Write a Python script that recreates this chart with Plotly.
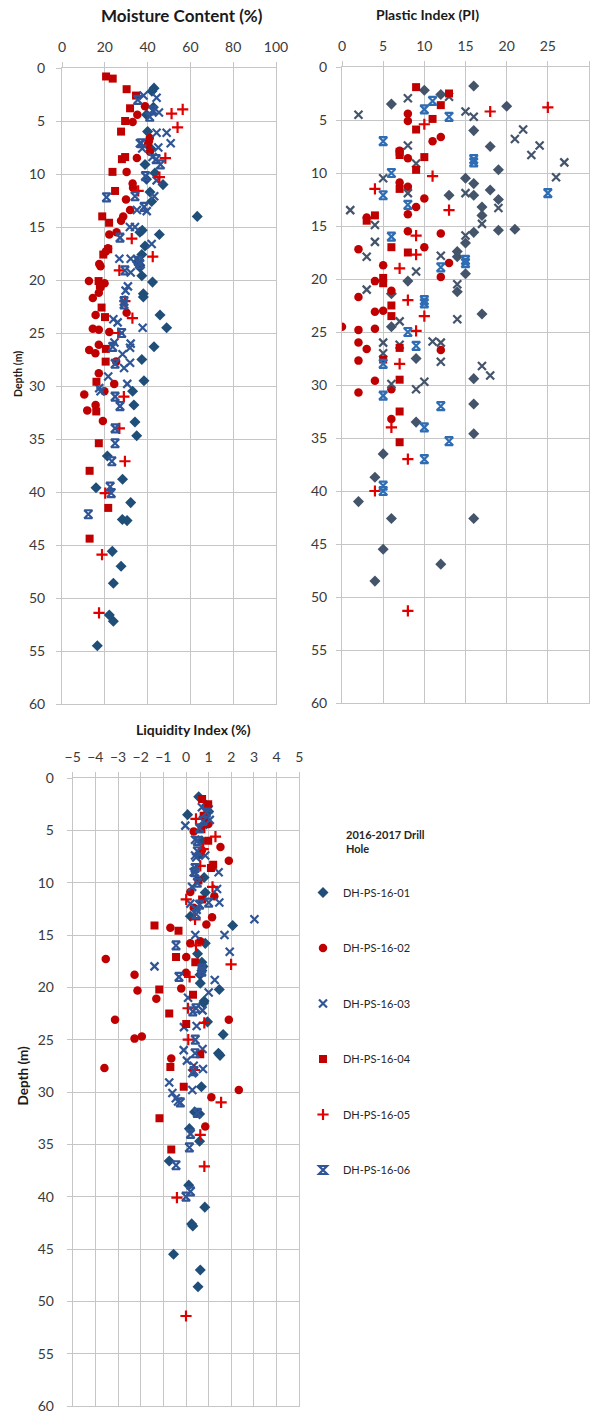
import plotly.graph_objects as go

# ---------------- DATA ----------------
series_names = ["DH-PS-16-01", "DH-PS-16-02", "DH-PS-16-03", "DH-PS-16-04", "DH-PS-16-05", "DH-PS-16-06"]
legend_title = "2016-2017 Drill<br>Hole"

# Moisture Content (%) : values and depths (m)
mc01_val = [43, 42, 42.7, 39.5, 40, 41.5, 38.8, 43.4, 39.5, 47.2, 41.1, 41.9, 63.2, 37.5, 36.4, 45.5, 38.8, 37.3, 35.2, 36.4, 36.4, 37.3, 42.3, 38, 38, 45.8, 48.9, 43, 37.3, 38.3, 33, 33.6, 34.1, 34.9, 21.2, 28.3, 15.9, 32.1, 28.2, 30.4, 23.5, 27.6, 24, 22.1, 24, 16.5]
mc01_dep = [1.9, 2.2, 3.7, 4.4, 6.0, 7.6, 9.1, 9.9, 10.5, 11.0, 11.7, 12.6, 14.0, 15.3, 15.5, 15.7, 16.8, 17.6, 18.3, 18.6, 18.8, 19.6, 20.2, 21.3, 21.6, 23.3, 24.5, 26.3, 27.5, 29.5, 30.5, 31.8, 33.4, 34.7, 36.6, 38.8, 39.6, 41.0, 42.6, 42.7, 45.6, 47.0, 48.6, 51.6, 52.2, 54.5]

mc02_val = [38.8, 35.2, 33, 41, 40.6, 40.2, 41.1, 35, 30.2, 33, 33.2, 29.9, 31.8, 28.6, 27.6, 25.5, 22.1, 21.5, 20.5, 17.4, 18, 12.6, 19.9, 18, 17.2, 14.4, 15.7, 30.2, 14.4, 17.2, 22.1, 17.2, 12.7, 15.6, 25.3, 17.2, 24.4, 19.8, 10.4, 15.7, 11.8, 19.1]
mc02_dep = [3.6, 4.4, 5.1, 6.6, 6.9, 7.2, 7.9, 8.5, 9.8, 10.9, 11.3, 12.4, 13.4, 14.0, 14.4, 15.5, 15.7, 17.0, 17.3, 18.5, 18.7, 20.1, 20.3, 20.7, 21.2, 21.7, 23.3, 23.1, 24.6, 24.7, 24.9, 26.1, 26.6, 26.9, 27.7, 28.8, 29.8, 30.5, 30.8, 31.8, 32.3, 33.3]

mc03_val = [44.2, 38.1, 45.3, 48.9, 44.2, 50.8, 36.4, 45, 37.5, 42.3, 44.2, 43.1, 35, 39.6, 31.7, 34.1, 41.9, 26.8, 32.1, 32.1, 30.8, 29.7, 24, 26, 37.7, 24.5, 32.1, 31.8, 28.3, 31.8, 29, 21.6, 30.5, 17.4, 18]
mc03_dep = [2.8, 2.6, 4.2, 6.1, 6.1, 7.1, 7.1, 7.5, 7.6, 8.4, 10.6, 12.1, 13.4, 13.5, 15.0, 15.0, 16.6, 18.0, 18.0, 19.3, 20.6, 21.0, 23.7, 24.0, 24.5, 25.9, 26.0, 26.4, 27.0, 27.8, 28.3, 29.1, 29.8, 30.2, 30.5]

mc04_val = [20.6, 23.7, 30.2, 34.6, 31.8, 29.5, 27.6, 29.5, 28, 23.6, 24.8, 18.8, 22, 21.6, 19.3, 17.1, 17.7, 18.5, 20.1, 20.5, 20.4, 16.1, 16, 17.2, 12.9, 21.6, 12.9]
mc04_dep = [0.8, 1.0, 2.0, 2.6, 3.8, 5.0, 6.0, 8.4, 8.6, 9.8, 11.6, 14.0, 14.6, 17.1, 17.6, 20.1, 20.5, 22.6, 23.5, 26.5, 27.7, 29.6, 32.4, 35.4, 38.0, 41.5, 44.4]

mc05_val = [56.4, 51.2, 54, 48.3, 45.5, 35.6, 32.6, 42.4, 26.8, 29.4, 32.9, 26.3, 28.9, 26.8, 29.4, 20.2, 18.7, 17.3]
mc05_dep = [3.9, 4.3, 5.6, 8.5, 10.3, 11.6, 16.1, 17.8, 19.1, 22.0, 23.6, 25.0, 31.0, 34.0, 37.1, 40.1, 45.9, 51.4]

mc06_val = [35.4, 42.5, 41, 37, 44, 46, 39, 20.8, 34.1, 38.4, 27.1, 35.6, 36.4, 29.4, 29, 29, 27.9, 23.7, 24.8, 24.8, 27.1, 24.8, 24.8, 23.3, 22.5, 23, 12.3]
mc06_dep = [3.0, 4.0, 4.6, 7.1, 8.6, 9.1, 10.2, 12.2, 12.1, 13.1, 16.0, 18.2, 18.5, 19.1, 22.0, 22.3, 25.0, 26.3, 27.9, 31.0, 31.9, 34.0, 35.4, 37.1, 39.5, 40.1, 42.1]

# Plastic Index (PI)
pi01_val = [16, 10, 12, 6, 20, 16, 18, 19, 15, 16, 18, 13, 16, 19, 17, 17, 16, 19, 21, 15, 14, 14, 15, 8, 14, 6, 17, 6, 9, 16, 16, 9, 16, 5, 4, 2, 6, 16, 5, 12, 4]
pi01_dep = [1.8, 2.2, 2.6, 3.5, 3.7, 6.0, 7.5, 9.7, 10.5, 11.0, 11.6, 12.1, 12.1, 12.5, 13.2, 14.0, 15.6, 15.4, 15.3, 16.6, 17.4, 17.9, 19.5, 20.2, 21.2, 21.4, 23.3, 24.5, 27.5, 29.4, 31.8, 33.5, 34.6, 36.5, 38.7, 41.0, 42.6, 42.6, 45.5, 46.9, 48.5]

pi02_val = [8, 8, 12, 11, 7, 8, 7, 8, 10, 9, 8, 3, 8, 12, 2, 10, 13, 5, 12, 4, 6, 2, 4, 5, 0, 2, 4, 2, 3, 12, 2, 4, 6, 2, 6]
pi02_dep = [4.4, 5.1, 6.6, 7.0, 7.9, 8.6, 10.9, 11.3, 12.4, 13.2, 13.9, 14.2, 15.5, 15.7, 17.2, 17.0, 18.5, 18.7, 19.8, 20.2, 21.1, 21.7, 23.1, 23.0, 24.5, 24.8, 24.7, 26.0, 26.6, 26.7, 27.7, 29.6, 30.4, 30.7, 33.2]

pi03_val = [2, 8, 13, 15, 16, 22, 21, 24, 23, 27, 26, 9, 8, 5, 8, 15, 19, 1, 4, 17, 15, 4, 3, 12, 9, 14, 3, 7, 14, 5, 11, 12, 5, 7, 12, 17, 18, 6, 10, 9]
pi03_dep = [4.5, 2.95, 2.8, 4.2, 4.7, 5.9, 6.8, 7.4, 8.3, 9.0, 10.4, 9.1, 7.4, 10.5, 11.9, 11.9, 13.3, 13.5, 14.9, 14.8, 15.9, 16.5, 17.9, 17.8, 19.3, 20.5, 21.0, 24.0, 23.8, 26.0, 25.9, 26.0, 27.0, 26.2, 27.8, 28.2, 29.1, 29.9, 29.7, 30.4]

pi04_val = [9, 13, 12, 11, 9, 7, 7, 10, 9, 7, 4, 3, 6, 8, 5, 5, 6, 6, 7, 5, 7, 7, 7]
pi04_dep = [1.9, 2.5, 3.6, 4.9, 5.9, 8.0, 8.3, 8.5, 9.7, 11.5, 14.0, 14.5, 17.0, 17.5, 19.9, 20.4, 22.5, 23.5, 26.5, 27.6, 29.5, 32.5, 35.4]

pi05_val = [25, 18, 10, 11, 4, 13, 9, 9, 7, 8, 10, 9, 7, 6, 8, 4, 8]
pi05_dep = [3.8, 4.2, 5.4, 10.3, 11.5, 13.5, 15.9, 17.7, 19.0, 22.0, 23.5, 24.9, 28.0, 34.0, 37.0, 40.0, 51.3]

pi06_val = [11, 10, 13, 5, 16, 16, 6, 5, 25, 8, 6, 15, 15, 12, 10, 10, 8, 9, 5, 5, 12, 10, 13, 10, 5, 5]
pi06_dep = [3.2, 4.0, 4.7, 7.0, 8.7, 9.0, 10.0, 12.1, 11.9, 13.0, 16.0, 18.2, 18.5, 18.9, 22.0, 22.3, 25.0, 26.3, 28.0, 31.0, 32.0, 34.0, 35.3, 37.0, 39.5, 40.0]

# Liquidity Index (%)
li01_val = [0.56, 0.9, 0.07, 1.0, 0.9, 0.7, 0.6, 0.8, 0.85, 0.19, 2.06, 0.85, 0.51, 0.7, 0.75, 0.7, 0.62, 0.63, 1.47, 0.8, 0.78, 0.95, 1.64, 1.43, 1.5, 0.68, 0.38, 0.6, 0.15, 0.6, -0.74, 0.12, 0.83, 0.25, 0.3, -0.55, 0.63, 0.53]
li01_dep = [1.8, 2.6, 3.5, 3.2, 4.4, 6.0, 7.3, 9.5, 10.95, 13.2, 14.1, 15.8, 16.8, 17.6, 18.0, 18.4, 18.8, 19.6, 20.2, 21.3, 21.5, 23.3, 24.5, 26.3, 26.5, 29.5, 31.9, 32.1, 33.5, 34.7, 36.6, 38.9, 41.0, 42.6, 42.8, 45.5, 47.0, 48.6]

li02_val = [0.85, 0.99, 0.34, 1.52, 0.7, 1.89, 0.19, 1.25, 0.34, 1.15, 0.9, -0.69, 0.63, 0.19, -3.54, 0.01, -2.27, 0.0, -2.14, -0.21, -1.31, -3.13, 1.89, -2.27, -1.95, -0.65, -3.6, 2.33, 1.12, 0.85]
li02_dep = [3.7, 4.4, 5.1, 6.6, 6.9, 7.9, 10.9, 11.3, 12.4, 13.3, 14.0, 14.3, 15.6, 15.8, 17.3, 17.1, 18.8, 18.6, 20.3, 20.1, 21.1, 23.1, 23.1, 24.9, 24.7, 26.8, 27.7, 29.8, 30.5, 33.3]

li03_val = [0.7, 1.0, 1.05, -0.03, 0.4, 0.4, 0.45, 0.85, 0.34, 1.44, 0.27, 1.37, 0.19, 1.47, 0.47, 3.02, 1.7, 0.41, 1.93, -1.39, 1.27, 1.0, 0.09, 0.73, -0.09, 0.47, -0.1, 0.73, 0.04, 0.34, 0.75, 0.28, -0.74, 0.28, -0.6, -0.45, -0.35]
li03_dep = [2.8, 3.0, 4.0, 4.55, 5.9, 7.4, 7.6, 7.4, 9.0, 9.0, 10.4, 10.6, 12.0, 11.9, 12.6, 13.5, 15.0, 15.0, 16.6, 18.0, 19.3, 20.5, 21.0, 22.2, 23.8, 23.7, 26.0, 25.9, 27.0, 27.5, 27.8, 28.2, 29.1, 29.8, 30.1, 30.6, 30.9]

li04_val = [0.71, 0.98, 0.78, 0.68, 0.98, 1.2, 1.1, 0.55, 0.71, -1.39, -0.33, -0.44, 0.41, -1.18, 0.31, -0.74, 0.01, 0.63, -0.69, -0.1, -1.17, -0.65]
li04_dep = [2.0, 2.5, 3.6, 4.9, 6.0, 8.3, 8.6, 9.8, 11.6, 14.1, 14.6, 17.1, 17.6, 20.2, 20.7, 22.5, 23.5, 26.4, 27.6, 29.5, 32.5, 35.5]

li05_val = [0.44, 1.3, 0.76, 0.63, 1.17, 0.01, 0.4, 0.44, 1.99, 0.16, 0.09, 0.81, 0.1, 0.37, 1.55, 0.63, 0.81, -0.4, 0.0]
li05_dep = [3.9, 5.6, 6.8, 8.4, 10.4, 11.6, 13.5, 16.0, 17.8, 19.0, 22.0, 23.4, 25.0, 27.9, 31.0, 34.1, 37.1, 40.1, 51.4]

li06_val = [0.9, 0.75, 0.6, 0.5, 0.5, 0.4, 0.4, 0.5, 0.6, 1.0, 0.45, -0.44, 0.7, 0.7, -0.31, 0.44, 0.3, 0.41, 0.4, 0.35, -0.25, 0.5, 0.2, 0.15, -0.44, 0.2, 0.0]
li06_dep = [3.3, 4.1, 4.8, 6.0, 7.0, 8.6, 9.0, 10.0, 12.1, 11.9, 13.0, 16.0, 18.2, 18.5, 19.0, 22.0, 22.3, 25.0, 26.3, 28.0, 31.0, 32.0, 34.0, 35.3, 37.0, 39.5, 40.0]

mc_ticks = [0, 20, 40, 60, 80, 100]
pi_ticks = [0, 5, 10, 15, 20, 25, 30]
li_ticks = [-5, -4, -3, -2, -1, 0, 1, 2, 3, 4, 5]
depth_ticks = [0, 5, 10, 15, 20, 25, 30, 35, 40, 45, 50, 55, 60]

# ---------------- STYLE ----------------
W, H = 597, 1414
FONT = "Lato"
NAVY = "#1F4E79"
BLUE = "#2F5597"
SLATE = "#44546A"
HG = "#2E6DB4"
RED = "#C00000"
PLUS = "#E00000"
GRID = "#C6C6C6"
TICKC = "#3a3a3a"


def marker_style(idx, panel):
    if idx == 0:
        c = SLATE if panel == 2 else NAVY
        return dict(symbol="diamond", size=8.5, color=c)
    if idx == 1:
        return dict(symbol="circle", size=8.5, color=RED)
    if idx == 2:
        c = SLATE if panel == 2 else BLUE
        return dict(symbol="x-thin", size=8, color=c, line=dict(width=2.2, color=c))
    if idx == 3:
        return dict(symbol="square", size=8, color=RED)
    if idx == 4:
        return dict(symbol="cross-thin", size=8, color=PLUS, line=dict(width=2.2, color=PLUS))
    c = HG if panel == 2 else BLUE
    return dict(symbol="hourglass-open", size=8, color=c, line=dict(width=2.2, color=c))


fig = go.Figure()

panels = [
    (1, [(mc01_val, mc01_dep), (mc02_val, mc02_dep), (mc03_val, mc03_dep), (mc04_val, mc04_dep), (mc05_val, mc05_dep), (mc06_val, mc06_dep)]),
    (2, [(pi01_val, pi01_dep), (pi02_val, pi02_dep), (pi03_val, pi03_dep), (pi04_val, pi04_dep), (pi05_val, pi05_dep), (pi06_val, pi06_dep)]),
    (3, [(li01_val, li01_dep), (li02_val, li02_dep), (li03_val, li03_dep), (li04_val, li04_dep), (li05_val, li05_dep), (li06_val, li06_dep)]),
]

for panel, data in panels:
    xa = "x" if panel == 1 else f"x{panel}"
    ya = "y" if panel == 1 else f"y{panel}"
    for i, (vals, deps) in enumerate(data):
        fig.add_trace(go.Scatter(
            x=vals, y=deps, mode="markers", name=series_names[i],
            marker=marker_style(i, panel), xaxis=xa, yaxis=ya,
            legendgroup=series_names[i], showlegend=(panel == 3),
        ))


def px_dom_x(a, b):
    return [a / W, b / W]


def px_dom_y(top, bottom):
    return [1 - bottom / H, 1 - top / H]


def xax(dom, rng, ticks, fs=14):
    return dict(domain=dom, range=rng, tickvals=ticks, side="top", showgrid=True,
                gridcolor=GRID, gridwidth=1, zeroline=False, showline=True, mirror=True,
                linecolor=GRID, linewidth=1, ticks="outside", ticklen=5, tickcolor=GRID,
                ticklabelstandoff=4,
                tickfont=dict(family=FONT, size=fs, color=TICKC), fixedrange=True,
                automargin=False)


def yax(dom, anchor_x, standoff=6, fs=14):
    return dict(domain=dom, range=[60, 0], tickvals=depth_ticks, showgrid=True,
                gridcolor=GRID, gridwidth=1, zeroline=False, showline=True, mirror=True,
                linecolor=GRID, linewidth=1, ticks="outside", ticklen=5, tickcolor=GRID,
                ticklabelstandoff=standoff,
                tickfont=dict(family=FONT, size=fs, color=TICKC), anchor=anchor_x,
                fixedrange=True, automargin=False)


fig.update_layout(
    width=W, height=H, margin=dict(l=0, r=0, t=0, b=0, autoexpand=False),
    paper_bgcolor="white", plot_bgcolor="white",
    font=dict(family=FONT, color="#404040"),
    xaxis=xax(px_dom_x(62, 276), [0, 100], mc_ticks) | dict(anchor="y"),
    yaxis=yax(px_dom_y(68, 704), "x", standoff=8),
    xaxis2=xax(px_dom_x(342, 589), [0, 30], pi_ticks) | dict(anchor="y2"),
    yaxis2=yax(px_dom_y(67, 703), "x2", standoff=6),
    xaxis3=xax(px_dom_x(72.7, 299.3), [-5, 5], li_ticks) | dict(anchor="y3"),
    yaxis3=yax(px_dom_y(778, 1406), "x3", standoff=10),
    legend=dict(x=303 / W, y=1 - 878 / H, xanchor="left", yanchor="top",
                font=dict(family=FONT, size=11, color="#262626"),
                tracegroupgap=36.5, bgcolor="rgba(0,0,0,0)"),
    showlegend=True,
)

ann = [
    dict(text="<b>Moisture Content (%)</b>", x=182 / W, y=1 - 16 / H, size=17),
    dict(text="<b>Plastic Index (PI)</b>", x=427 / W, y=1 - 14 / H, size=14),
    dict(text="<b>Liquidity Index (%)</b>", x=193 / W, y=1 - 730 / H, size=14),
]
for a in ann:
    fig.add_annotation(xref="paper", yref="paper", showarrow=False, xanchor="center", yanchor="middle",
                       text=a["text"], x=a["x"], y=a["y"],
                       font=dict(family=FONT, size=a["size"], color="#1a1a1a"))

# legend heading
fig.add_annotation(xref="paper", yref="paper", showarrow=False, xanchor="left", yanchor="middle",
                   align="left", x=344 / W, y=1 - 841 / H, text=f"<b>{legend_title}</b>",
                   font=dict(family=FONT, size=11, color="#262626"))

for xx, yy, fs in [(18, 374, 10.5), (22.5, 1075, 13.5)]:
    fig.add_annotation(xref="paper", yref="paper", showarrow=False, x=xx / W, y=1 - yy / H,
                       text="<b>Depth (m)</b>", textangle=-90, xanchor="center", yanchor="middle",
                       font=dict(family=FONT, size=fs, color="#1a1a1a"))

fig.write_html("out.html", config={"displayModeBar": False},
               post_script="document.body.style.margin='0';document.body.style.padding='0';document.body.style.overflow='hidden';")
